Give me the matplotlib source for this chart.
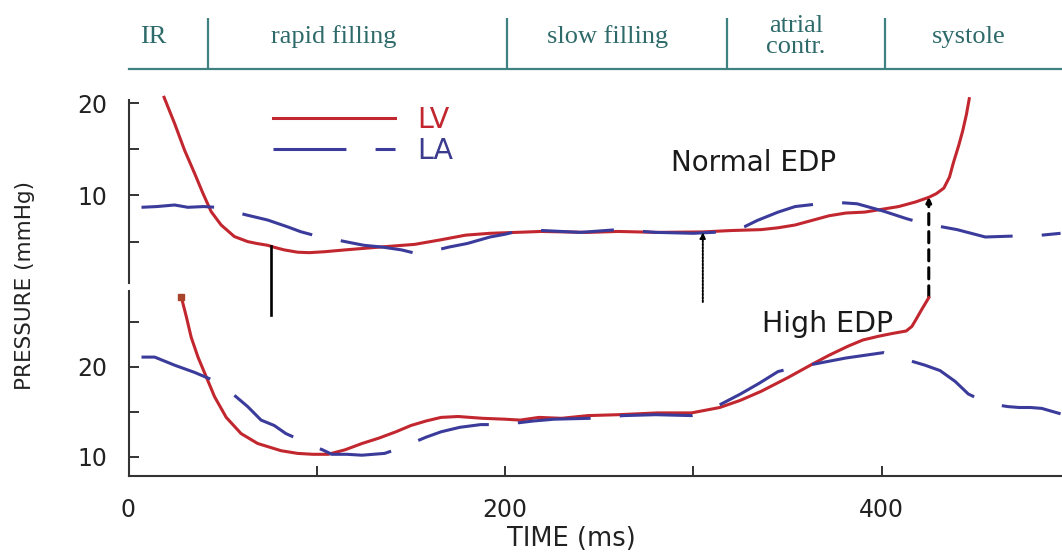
import matplotlib
matplotlib.use("Agg")
import matplotlib.pyplot as plt

plt.rcParams['lines.scale_dashes'] = False
plt.rcParams['font.family'] = ['DejaVu Sans']

# ---------------- data ----------------
# Normal EDP panel
lv_norm_t = [18.9, 24.5, 29.8, 35.1, 39.5, 43.9, 49.2, 56.2, 63.3, 68, 73.9, 78, 82.7, 89.8, 96, 104,
             115, 133, 152, 166, 179, 192, 206, 219, 244, 260, 281, 305, 320, 336, 345, 354, 363,
             372, 381, 391, 400, 409, 418, 425, 429, 433, 436, 438, 441, 443, 445, 446.5]
lv_norm_p = [20.65, 17.8, 14.9, 12.4, 10.25, 8.25, 6.8, 5.55, 5.0, 4.8, 4.6, 4.35, 4.1, 3.85, 3.8, 3.9,
             4.1, 4.4, 4.7, 5.2, 5.7, 5.9, 6.0, 6.1, 6.0, 6.1, 6.0, 6.05, 6.2, 6.3, 6.5, 6.8, 7.3,
             7.8, 8.1, 8.2, 8.5, 8.8, 9.3, 9.8, 10.2, 10.8, 12.0, 13.5, 15.5, 17.0, 18.8, 20.5]

la_norm_t = [6.9, 15, 24.5, 31.5, 40, 46.5, 55, 62.4, 73.9, 84.5, 91.5, 100, 108, 115, 125, 135, 145,
             153, 162, 170, 180, 192, 200, 208, 220, 240, 260, 280, 300, 320, 327, 334, 345, 354,
             371, 380, 387, 401, 413, 425, 432, 440, 455, 470, 480, 495]
la_norm_p = [8.72, 8.8, 8.97, 8.72, 8.8, 8.72, 8.3, 7.9, 7.34, 6.6, 6.07, 5.6, 5.3, 5.0, 4.6, 4.4, 4.1,
             3.7, 4.0, 4.4, 4.8, 5.5, 5.8, 6.2, 6.2, 6.0, 6.3, 6.0, 5.9, 6.1, 6.6, 7.3, 8.2, 8.8,
             9.2, 9.2, 9.1, 8.3, 7.5, 6.8, 6.6, 6.3, 5.5, 5.6, 5.6, 5.9]

# High EDP panel
lv_high_t = [28, 30.7, 33.3, 36.9, 41.3, 45.7, 51.9, 59.8, 68.6, 81, 89.8, 98, 106, 115, 124, 133,
             142, 150, 158, 166, 175, 188, 200, 208, 218, 230, 244, 260, 281, 299, 314, 325, 336,
             350, 363, 372, 382, 390, 398, 405, 413, 416, 418, 421, 425]
lv_high_p = [27.8, 25.6, 23.3, 21.1, 18.9, 16.7, 14.4, 12.6, 11.5, 10.7, 10.4, 10.3, 10.3, 10.8, 11.5, 12.1,
             12.8, 13.5, 14.0, 14.4, 14.5, 14.3, 14.2, 14.1, 14.4, 14.3, 14.6, 14.7, 14.9, 14.9, 15.5, 16.3, 17.3,
             18.8, 20.3, 21.3, 22.3, 23.0, 23.4, 23.7, 24.0, 24.5, 25.2, 26.3, 27.7]

la_high_t = [6.9, 13.9, 24.5, 35.1, 43, 50, 55.4, 63.3, 70.4, 77.4, 83.6, 90, 97, 103, 108, 116, 124,
             136, 143, 150, 158, 166, 176, 187, 195, 203, 215, 226, 245, 263, 280, 299, 307, 314, 325,
             335, 345, 353, 361, 371, 381, 391, 401, 408, 415, 423, 431, 439, 446, 453, 461, 467, 473,
             479, 485, 490, 495]
la_high_p = [21.1, 21.1, 20.2, 19.4, 18.7, 17.8, 17.0, 15.6, 14.1, 13.5, 12.6, 12.0, 11.3, 10.8, 10.3, 10.3, 10.2,
             10.4, 10.9, 11.5, 12.2, 12.8, 13.3, 13.6, 13.6, 13.7, 14.0, 14.2, 14.3, 14.6, 14.7, 14.6, 15.1, 15.8, 17.0,
             18.2, 19.5, 19.9, 20.2, 20.6, 21.0, 21.3, 21.6, 21.2, 20.7, 20.2, 19.6, 18.4, 17.0, 16.3, 15.8, 15.6, 15.5,
             15.5, 15.4, 15.1, 14.8]

# cardiac phases (ms)
phase_bounds = [42, 201, 318, 402]
phase_labels = ["IR", "rapid filling", "slow filling", "atrial\ncontr.", "systole"]
phase_centers = [13, 109, 254.5, 354.5, 446]

# end-diastolic markers (ms)
mark_solid_t = 75.5
mark_dotted_t = 305
mark_dashed_t = 425

# ---------------- styling ----------------
W, H = 1062, 553
RED = '#c2262e'
BLUE = '#3b3b9b'
TEAL = '#3f8080'
TEAL_TXT = '#2f6a6a'
AX = '#333333'
X0_PX = 128.5
PX_PER_MS = 1.883
XMAX = (W - X0_PX) / PX_PER_MS
LW = 2.2

fig = plt.figure(figsize=(W / 100, H / 100), dpi=100)

def fx(px):
    return px / W

def fy(py):
    return 1 - py / H

AXW = (W - X0_PX) / W
ax_top = fig.add_axes([fx(X0_PX), fy(290), AXW, 200 / H])
ax_bot = fig.add_axes([fx(X0_PX), fy(476), AXW, 191 / H])
ax_hdr = fig.add_axes([fx(X0_PX), fy(69), AXW, 54 / H])

for ax in (ax_top, ax_bot, ax_hdr):
    ax.set_facecolor('none')
    ax.set_xlim(0, XMAX)
    for s in ('top', 'right'):
        ax.spines[s].set_visible(False)

# top: 20 mmHg at y=103.3 px, 9.22 px per mmHg ; bottom: 20 at 367 px, 9.0 px per mmHg
ax_top.set_ylim(20 - (290 - 103.3) / 9.22, 20 + (103.3 - 90) / 9.22)
ax_bot.set_ylim(20 - (476 - 367) / 9.0, 20 + (367 - 285) / 9.0)

la_dash = (0, (52.5, 21))

# top panel
ax_top.plot(lv_norm_t, lv_norm_p, color=RED, lw=LW, label='LV', clip_on=False)
ax_top.plot(la_norm_t, la_norm_p, color=BLUE, lw=LW, linestyle=la_dash, label='LA', clip_on=False)

# bottom panel
ax_bot.plot(lv_high_t, lv_high_p, color=RED, lw=LW, clip_on=False)
ax_bot.plot(lv_high_t[:1], lv_high_p[:1], 's', color='#a8432c', ms=5, clip_on=False)
ax_bot.plot(la_high_t, la_high_p, color=BLUE, lw=LW, linestyle=la_dash, clip_on=False)

# vertical EDP markers (top-panel coordinates, reaching into lower panel)
ax_top.plot([mark_solid_t, mark_solid_t], [4.55, -2.95], color='black', lw=1.9, clip_on=False)
ax_top.annotate('', xy=(mark_dotted_t, 6.0), xytext=(mark_dotted_t, -1.55),
                arrowprops=dict(arrowstyle='-|>', color='black', lw=1.4, linestyle=(0, (1.2, 1.2)),
                                mutation_scale=8, shrinkA=0, shrinkB=0),
                annotation_clip=False)
ax_top.annotate('', xy=(mark_dashed_t, 9.85), xytext=(mark_dashed_t, -1.0),
                arrowprops=dict(arrowstyle='-|>', color='black', lw=2.2, linestyle=(0, (8, 5)),
                                mutation_scale=7, shrinkA=0, shrinkB=0),
                annotation_clip=False)

# texts
ax_top.text(332, 13.5, 'Normal EDP', fontsize=20, ha='center', va='center', color='#1a1a1a')
ax_bot.text(371.5, 24.8, 'High EDP', fontsize=20.5, ha='center', va='center', color='#1a1a1a')

# legend
ax_top.legend(loc='center left', bbox_to_anchor=((273 - X0_PX) / (W - X0_PX), (290 - 135.5) / 200),
              frameon=False, fontsize=20.5, handlelength=4.3, handletextpad=0.75,
              labelspacing=0.12, borderpad=0, borderaxespad=0, labelcolor=[RED, '#3b3b8f'])

# axes styling
for ax in (ax_top, ax_bot):
    ax.spines['left'].set_color(AX)
    ax.spines['left'].set_linewidth(1.5)
    ax.tick_params(axis='both', which='both', direction='in', length=7, width=1.4,
                   color=AX, labelsize=17, labelcolor='#222222')
    ax.tick_params(axis='y', which='both', pad=15)

ax_top.spines['bottom'].set_visible(False)
ax_top.spines['left'].set_bounds(20 - (283 - 103.3) / 9.22, 20 + (103.3 - 100) / 9.22)
ax_top.set_yticks([10, 20])
ax_top.set_yticks([5, 15], minor=True)
ax_top.tick_params(axis='x', which='both', bottom=False, labelbottom=False)

ax_bot.spines['left'].set_bounds(20 - (476 - 367) / 9.0, 20 + (367 - 291) / 9.0)
ax_bot.spines['bottom'].set_color(AX)
ax_bot.spines['bottom'].set_linewidth(1.5)
ax_bot.set_yticks([10, 20])
ax_bot.set_yticks([15, 25], minor=True)
ax_bot.set_xticks([0, 200, 400])
ax_bot.set_xticks([100, 300], minor=True)
ax_bot.tick_params(axis='x', which='both', pad=15.5)

fig.text(fx(571), fy(539), 'TIME (ms)', fontsize=18.5, ha='center', va='center', color='#222222')
fig.text(fx(25), fy(286), 'PRESSURE (mmHg)', fontsize=15.5, rotation=90,
         ha='center', va='center', color='#222222')

# header with cardiac phases
ax_hdr.set_ylim(0, 1)
ax_hdr.spines['left'].set_visible(False)
ax_hdr.spines['bottom'].set_color(TEAL)
ax_hdr.spines['bottom'].set_linewidth(1.6)
ax_hdr.set_xticks([])
ax_hdr.set_yticks([])
ax_hdr.vlines(phase_bounds, 0, 0.944, color=TEAL, lw=1.6)
for c, lab in zip(phase_centers, phase_labels):
    ax_hdr.text(c, 0.6, lab, ha='center', va='center', fontsize=19,
                family=['Liberation Serif', 'DejaVu Serif'], color=TEAL_TXT, linespacing=0.95)

fig.savefig('out.png', dpi=100)
